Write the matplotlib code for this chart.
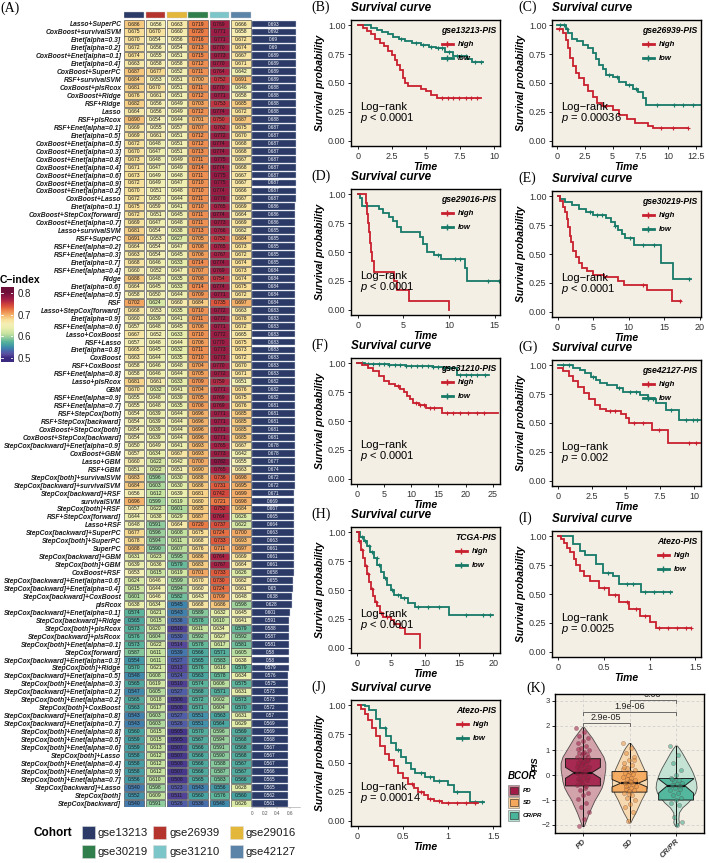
import numpy as np
import matplotlib
matplotlib.use('Agg')
import matplotlib.pyplot as plt
from matplotlib.colors import LinearSegmentedColormap, Normalize
from matplotlib.patches import Rectangle

plt.rcParams['font.family'] = ['Liberation Sans', 'DejaVu Sans']
plt.rcParams['mathtext.fontset'] = 'custom'
plt.rcParams['mathtext.rm'] = 'Liberation Sans'
plt.rcParams['mathtext.it'] = 'Liberation Sans:italic'

# ---------------- (A) C-index heatmap data ----------------
cohorts = ['gse13213', 'gse26939', 'gse29016', 'gse30219', 'gse31210', 'gse42127']
cohort_colors = ['#2b3a67', '#b5342e', '#e3b73a', '#2f7e4b', '#7cc5c8', '#5c84a8']

models = [
    'Lasso+SuperPC', 'CoxBoost+survivalSVM', 'Enet[alpha=0.3]', 'Enet[alpha=0.2]',
    'CoxBoost+Enet[alpha=0.1]', 'Enet[alpha=0.4]', 'CoxBoost+SuperPC', 'RSF+survivalSVM',
    'CoxBoost+plsRcox', 'CoxBoost+Ridge', 'RSF+Ridge', 'Lasso', 'RSF+plsRcox',
    'RSF+Enet[alpha=0.1]', 'Enet[alpha=0.5]', 'CoxBoost+Enet[alpha=0.5]',
    'CoxBoost+Enet[alpha=0.3]', 'CoxBoost+Enet[alpha=0.8]', 'CoxBoost+Enet[alpha=0.4]',
    'CoxBoost+Enet[alpha=0.6]', 'CoxBoost+Enet[alpha=0.9]', 'CoxBoost+Enet[alpha=0.2]',
    'CoxBoost+Lasso', 'Enet[alpha=0.1]', 'CoxBoost+StepCox[forward]',
    'CoxBoost+Enet[alpha=0.7]', 'Lasso+survivalSVM', 'RSF+SuperPC', 'RSF+Enet[alpha=0.2]',
    'RSF+Enet[alpha=0.3]', 'Enet[alpha=0.7]', 'RSF+Enet[alpha=0.4]', 'Ridge',
    'Enet[alpha=0.6]', 'RSF+Enet[alpha=0.5]', 'RSF', 'Lasso+StepCox[forward]',
    'Enet[alpha=0.9]', 'RSF+Enet[alpha=0.6]', 'Lasso+CoxBoost', 'RSF+Lasso',
    'Enet[alpha=0.8]', 'CoxBoost', 'RSF+CoxBoost', 'RSF+Enet[alpha=0.8]', 'Lasso+plsRcox',
    'GBM', 'RSF+Enet[alpha=0.9]', 'RSF+Enet[alpha=0.7]', 'RSF+StepCox[both]',
    'RSF+StepCox[backward]', 'CoxBoost+StepCox[both]', 'CoxBoost+StepCox[backward]',
    'StepCox[backward]+Enet[alpha=0.9]', 'CoxBoost+GBM', 'Lasso+GBM', 'RSF+GBM',
    'StepCox[both]+survivalSVM', 'StepCox[backward]+survivalSVM', 'StepCox[backward]+RSF',
    'survivalSVM', 'StepCox[both]+RSF', 'RSF+StepCox[forward]', 'Lasso+RSF',
    'StepCox[backward]+SuperPC', 'StepCox[both]+SuperPC', 'SuperPC',
    'StepCox[backward]+GBM', 'StepCox[both]+GBM', 'CoxBoost+RSF',
    'StepCox[backward]+Enet[alpha=0.6]', 'StepCox[backward]+Enet[alpha=0.4]',
    'StepCox[backward]+CoxBoost', 'plsRcox', 'StepCox[backward]+Enet[alpha=0.1]',
    'StepCox[backward]+Ridge', 'StepCox[both]+plsRcox', 'StepCox[backward]+plsRcox',
    'StepCox[both]+Enet[alpha=0.1]', 'StepCox[forward]', 'StepCox[backward]+Enet[alpha=0.3]',
    'StepCox[both]+Ridge', 'StepCox[backward]+Enet[alpha=0.5]', 'StepCox[both]+Enet[alpha=0.3]',
    'StepCox[backward]+Enet[alpha=0.2]', 'StepCox[both]+Enet[alpha=0.2]',
    'StepCox[both]+CoxBoost', 'StepCox[backward]+Enet[alpha=0.8]',
    'StepCox[backward]+Enet[alpha=0.7]', 'StepCox[both]+Enet[alpha=0.8]',
    'StepCox[both]+Enet[alpha=0.5]', 'StepCox[both]+Enet[alpha=0.6]', 'StepCox[both]+Lasso',
    'StepCox[both]+Enet[alpha=0.4]', 'StepCox[both]+Enet[alpha=0.9]',
    'StepCox[both]+Enet[alpha=0.7]', 'StepCox[backward]+Lasso', 'StepCox[both]',
    'StepCox[backward]',
]

cindex = [
    [0.686, 0.656, 0.663, 0.719, 0.769, 0.666],
    [0.675, 0.670, 0.660, 0.720, 0.771, 0.658],
    [0.670, 0.654, 0.656, 0.716, 0.771, 0.672],
    [0.672, 0.656, 0.654, 0.713, 0.770, 0.674],
    [0.674, 0.655, 0.651, 0.715, 0.773, 0.667],
    [0.663, 0.658, 0.658, 0.712, 0.770, 0.671],
    [0.687, 0.677, 0.652, 0.711, 0.764, 0.642],
    [0.684, 0.653, 0.651, 0.700, 0.752, 0.691],
    [0.681, 0.670, 0.651, 0.711, 0.770, 0.646],
    [0.676, 0.661, 0.651, 0.712, 0.771, 0.658],
    [0.682, 0.656, 0.649, 0.703, 0.753, 0.685],
    [0.664, 0.656, 0.649, 0.712, 0.774, 0.672],
    [0.690, 0.654, 0.644, 0.701, 0.750, 0.687],
    [0.669, 0.655, 0.657, 0.707, 0.762, 0.675],
    [0.669, 0.661, 0.651, 0.712, 0.772, 0.670],
    [0.672, 0.648, 0.651, 0.712, 0.774, 0.668],
    [0.670, 0.647, 0.651, 0.713, 0.774, 0.668],
    [0.673, 0.648, 0.649, 0.711, 0.775, 0.667],
    [0.671, 0.647, 0.649, 0.714, 0.774, 0.668],
    [0.673, 0.649, 0.648, 0.711, 0.775, 0.667],
    [0.672, 0.649, 0.647, 0.710, 0.775, 0.667],
    [0.670, 0.651, 0.648, 0.710, 0.774, 0.666],
    [0.672, 0.650, 0.644, 0.711, 0.776, 0.667],
    [0.675, 0.659, 0.641, 0.710, 0.765, 0.669],
    [0.672, 0.651, 0.645, 0.711, 0.774, 0.664],
    [0.669, 0.647, 0.648, 0.711, 0.773, 0.669],
    [0.681, 0.654, 0.638, 0.713, 0.766, 0.662],
    [0.691, 0.653, 0.627, 0.705, 0.752, 0.684],
    [0.664, 0.654, 0.647, 0.708, 0.765, 0.673],
    [0.663, 0.654, 0.645, 0.706, 0.767, 0.672],
    [0.668, 0.646, 0.633, 0.714, 0.774, 0.674],
    [0.660, 0.652, 0.647, 0.707, 0.769, 0.673],
    [0.688, 0.648, 0.635, 0.708, 0.754, 0.674],
    [0.664, 0.645, 0.633, 0.714, 0.774, 0.675],
    [0.658, 0.650, 0.644, 0.709, 0.771, 0.672],
    [0.702, 0.624, 0.660, 0.684, 0.735, 0.697],
    [0.668, 0.653, 0.635, 0.710, 0.772, 0.663],
    [0.660, 0.639, 0.641, 0.711, 0.772, 0.678],
    [0.657, 0.648, 0.645, 0.706, 0.771, 0.672],
    [0.667, 0.652, 0.633, 0.710, 0.772, 0.665],
    [0.657, 0.648, 0.644, 0.706, 0.770, 0.675],
    [0.665, 0.645, 0.632, 0.711, 0.773, 0.673],
    [0.663, 0.644, 0.635, 0.710, 0.773, 0.672],
    [0.658, 0.646, 0.648, 0.704, 0.770, 0.670],
    [0.658, 0.646, 0.644, 0.705, 0.772, 0.671],
    [0.681, 0.661, 0.633, 0.709, 0.759, 0.651],
    [0.670, 0.632, 0.641, 0.704, 0.771, 0.676],
    [0.655, 0.648, 0.639, 0.705, 0.769, 0.675],
    [0.655, 0.648, 0.635, 0.706, 0.769, 0.676],
    [0.654, 0.639, 0.644, 0.696, 0.771, 0.685],
    [0.654, 0.639, 0.644, 0.696, 0.771, 0.685],
    [0.654, 0.639, 0.644, 0.696, 0.771, 0.685],
    [0.654, 0.639, 0.644, 0.696, 0.771, 0.685],
    [0.650, 0.649, 0.641, 0.693, 0.765, 0.667],
    [0.657, 0.634, 0.667, 0.693, 0.773, 0.642],
    [0.660, 0.622, 0.642, 0.700, 0.782, 0.655],
    [0.651, 0.622, 0.651, 0.690, 0.765, 0.663],
    [0.683, 0.596, 0.630, 0.688, 0.736, 0.698],
    [0.684, 0.603, 0.630, 0.686, 0.731, 0.695],
    [0.656, 0.612, 0.639, 0.681, 0.742, 0.699],
    [0.696, 0.599, 0.619, 0.680, 0.721, 0.698],
    [0.657, 0.622, 0.601, 0.685, 0.752, 0.684],
    [0.644, 0.638, 0.629, 0.687, 0.764, 0.626],
    [0.648, 0.591, 0.664, 0.720, 0.737, 0.622],
    [0.677, 0.596, 0.608, 0.675, 0.724, 0.700],
    [0.678, 0.594, 0.611, 0.668, 0.733, 0.693],
    [0.688, 0.590, 0.607, 0.676, 0.711, 0.697],
    [0.631, 0.623, 0.595, 0.686, 0.764, 0.669],
    [0.639, 0.636, 0.579, 0.683, 0.767, 0.664],
    [0.653, 0.615, 0.619, 0.701, 0.733, 0.626],
    [0.624, 0.646, 0.599, 0.670, 0.730, 0.662],
    [0.615, 0.644, 0.594, 0.660, 0.724, 0.661],
    [0.601, 0.646, 0.582, 0.643, 0.709, 0.648],
    [0.638, 0.634, 0.545, 0.668, 0.686, 0.598],
    [0.574, 0.621, 0.543, 0.589, 0.632, 0.645],
    [0.565, 0.615, 0.536, 0.578, 0.610, 0.641],
    [0.573, 0.620, 0.510, 0.611, 0.634, 0.579],
    [0.576, 0.604, 0.530, 0.592, 0.627, 0.592],
    [0.573, 0.622, 0.514, 0.578, 0.617, 0.581],
    [0.587, 0.611, 0.539, 0.566, 0.571, 0.605],
    [0.554, 0.611, 0.527, 0.565, 0.583, 0.638],
    [0.570, 0.621, 0.513, 0.576, 0.616, 0.579],
    [0.548, 0.608, 0.524, 0.563, 0.578, 0.634],
    [0.565, 0.619, 0.510, 0.574, 0.606, 0.575],
    [0.547, 0.605, 0.527, 0.568, 0.571, 0.631],
    [0.565, 0.618, 0.506, 0.572, 0.602, 0.573],
    [0.563, 0.617, 0.508, 0.571, 0.604, 0.570],
    [0.543, 0.603, 0.527, 0.551, 0.563, 0.631],
    [0.543, 0.603, 0.526, 0.551, 0.564, 0.629],
    [0.560, 0.615, 0.505, 0.570, 0.596, 0.569],
    [0.559, 0.615, 0.505, 0.567, 0.594, 0.568],
    [0.559, 0.613, 0.507, 0.566, 0.591, 0.568],
    [0.558, 0.612, 0.507, 0.566, 0.590, 0.568],
    [0.558, 0.612, 0.508, 0.566, 0.588, 0.567],
    [0.558, 0.612, 0.507, 0.566, 0.587, 0.567],
    [0.556, 0.610, 0.508, 0.565, 0.583, 0.566],
    [0.540, 0.598, 0.523, 0.543, 0.556, 0.628],
    [0.552, 0.609, 0.511, 0.560, 0.576, 0.560],
    [0.540, 0.591, 0.526, 0.536, 0.548, 0.626],
]

mean_cindex = [
    0.693, 0.692, 0.69, 0.69, 0.689, 0.689, 0.689, 0.689, 0.688, 0.688,
    0.688, 0.688, 0.688, 0.687, 0.687, 0.687, 0.687, 0.687, 0.687, 0.687,
    0.687, 0.687, 0.687, 0.686, 0.686, 0.686, 0.685, 0.685, 0.685, 0.685,
    0.685, 0.684, 0.684, 0.684, 0.684, 0.684, 0.683, 0.683, 0.683, 0.683,
    0.683, 0.683, 0.683, 0.683, 0.683, 0.682, 0.682, 0.682, 0.681, 0.681,
    0.681, 0.681, 0.681, 0.678, 0.678, 0.677, 0.674, 0.672, 0.672, 0.671,
    0.669, 0.667, 0.665, 0.664, 0.663, 0.663, 0.661, 0.661, 0.661, 0.658,
    0.655, 0.65, 0.638, 0.628, 0.601, 0.591, 0.588, 0.587, 0.581, 0.58,
    0.58, 0.579, 0.576, 0.575, 0.573, 0.573, 0.572, 0.57, 0.569, 0.569,
    0.568, 0.567, 0.567, 0.567, 0.566, 0.565, 0.565, 0.562, 0.561,
]

# ---------------- Kaplan-Meier curves ----------------
b_hi_t = [0, 0.4, 0.7, 1.0, 1.3, 1.6, 1.9, 2.2, 2.5, 2.7, 2.9, 3.1, 3.3, 3.5, 3.7, 4.6, 5.0, 5.4, 5.8, 9.0]
b_hi_s = [1, 0.98, 0.95, 0.92, 0.88, 0.85, 0.82, 0.78, 0.74, 0.70, 0.66, 0.61, 0.54, 0.50, 0.47, 0.45, 0.43, 0.40, 0.37, 0.37]
b_lo_t = [0, 1.0, 1.4, 1.8, 2.2, 2.6, 3.0, 3.5, 4.0, 4.6, 5.2, 5.7, 6.4, 7.0, 8.0, 8.4, 9.2]
b_lo_s = [1, 0.98, 0.96, 0.94, 0.92, 0.90, 0.88, 0.86, 0.845, 0.83, 0.81, 0.80, 0.77, 0.73, 0.71, 0.68, 0.68]
b_hi_c = [6.2, 6.6, 7.0, 7.4, 7.9, 8.3, 8.7]
b_lo_c = [3.2, 4.3, 4.8, 5.4, 5.9, 6.2, 6.7, 7.3, 7.6, 7.9, 8.6, 9.0]

c_hi_t = [0, 0.5, 0.8, 1.0, 1.2, 1.4, 1.7, 2.0, 2.4, 2.8, 3.2, 3.6, 4.0, 5.0, 5.6, 6.3, 7.0, 8.2, 8.6, 11.8]
c_hi_s = [0.97, 0.93, 0.87, 0.80, 0.72, 0.65, 0.59, 0.54, 0.48, 0.43, 0.38, 0.33, 0.30, 0.27, 0.22, 0.19, 0.15, 0.13, 0.11, 0.11]
c_lo_t = [0, 0.8, 1.0, 1.3, 1.8, 2.3, 2.8, 3.2, 3.5, 3.8, 4.1, 4.4, 5.0, 5.6, 6.2, 6.8, 7.3, 7.7, 8.0, 13.0]
c_lo_s = [1, 0.97, 0.93, 0.88, 0.86, 0.83, 0.80, 0.76, 0.71, 0.66, 0.62, 0.57, 0.55, 0.51, 0.48, 0.45, 0.42, 0.37, 0.31, 0.31]
c_hi_c = [0.2, 4.4, 9.4, 10.4, 11.8]
c_lo_c = [0.3, 0.6, 0.9, 4.7, 5.4, 6.5, 7.1, 9.0, 10.5, 11.3, 12.2]

d_hi_t = [0, 0.9, 1.0, 1.1, 1.2, 1.3, 1.45, 1.6, 1.8, 4.0, 4.3, 5.6, 10.0]
d_hi_s = [1, 0.92, 0.83, 0.75, 0.67, 0.58, 0.50, 0.42, 0.33, 0.25, 0.17, 0.08, 0.0]
d_lo_t = [0, 0.2, 0.5, 2.3, 2.8, 3.4, 3.9, 4.3, 4.7, 6.8, 7.2, 7.6, 8.3, 9.1, 11.7, 12.0, 15.6]
d_lo_s = [1, 0.97, 0.90, 0.87, 0.84, 0.80, 0.77, 0.72, 0.67, 0.63, 0.57, 0.50, 0.47, 0.44, 0.36, 0.25, 0.25]
d_hi_c = []
d_lo_c = [0.9, 8.8, 10.6, 11.2, 14.3, 15.5]

e_hi_t = [0, 0.3, 0.7, 1.0, 1.3, 1.5, 1.7, 1.9, 2.2, 2.6, 3.0, 3.5, 4.2, 5.0, 6.5, 8.5, 9.4, 12.6, 16.1, 17.4]
e_hi_s = [1, 0.96, 0.91, 0.86, 0.80, 0.73, 0.66, 0.60, 0.53, 0.47, 0.42, 0.38, 0.35, 0.32, 0.30, 0.27, 0.23, 0.19, 0.09, 0.09]
e_lo_t = [0, 0.3, 1.0, 2.0, 3.0, 4.0, 5.0, 6.8, 7.5, 8.0, 8.5, 9.0, 9.5, 10.7, 14.5, 16.2, 18.7]
e_lo_s = [1, 0.98, 0.95, 0.92, 0.89, 0.86, 0.84, 0.81, 0.78, 0.74, 0.71, 0.67, 0.64, 0.58, 0.42, 0.28, 0.28]
e_hi_c = [12.0, 17.2]
e_lo_c = [4.5, 5.5, 6.2, 8.0, 10.2, 12.0, 13.5, 18.5]

f_hi_t = [0, 1.0, 2.0, 3.0, 4.0, 5.0, 6.0, 7.0, 8.0, 8.7, 9.2, 9.7, 10.3, 11.5, 12.8, 15.6, 26.0]
f_hi_s = [1, 0.985, 0.96, 0.93, 0.89, 0.85, 0.82, 0.80, 0.78, 0.75, 0.72, 0.69, 0.66, 0.64, 0.61, 0.57, 0.57]
f_lo_t = [0, 1.5, 4, 6, 9, 12, 14, 16, 18.4, 24.3]
f_lo_s = [1, 0.995, 0.99, 0.985, 0.98, 0.975, 0.965, 0.955, 0.90, 0.90]
f_hi_c = [7.5, 10.8, 11.6, 12.3, 13.5, 14.2, 16.5, 17.6, 19.0, 20.5, 22.0, 23.3]
f_lo_c = [1, 2, 3, 4, 5, 6, 7, 8, 9, 10, 11, 12, 13, 14, 15, 16, 17, 19, 20, 21, 22, 23.5]

g_hi_t = [0, 0.4, 0.8, 1.1, 1.5, 1.9, 2.3, 2.7, 3.1, 3.5, 4.6, 5.0, 5.2, 6.9, 8.05, 10.4]
g_hi_s = [0.98, 0.95, 0.91, 0.86, 0.81, 0.76, 0.71, 0.66, 0.62, 0.60, 0.58, 0.54, 0.50, 0.44, 0.33, 0.33]
g_lo_t = [0, 1.1, 1.6, 2.0, 2.4, 2.8, 3.1, 3.6, 4.3, 4.8, 6.0, 6.6, 7.2, 7.9, 8.9, 10.4]
g_lo_s = [1, 0.98, 0.96, 0.93, 0.90, 0.87, 0.85, 0.83, 0.80, 0.77, 0.74, 0.71, 0.67, 0.61, 0.53, 0.53]
g_hi_c = [3.8, 4.2, 5.6, 6.2, 7.4, 9.6, 10.1]
g_lo_c = [0.4, 0.8, 2.6, 4.5, 5.3, 5.7, 7.0, 8.3, 9.4, 9.9, 10.2]

h_hi_t = [0, 0.3, 0.6, 0.9, 1.2, 1.5, 1.8, 2.1, 2.4, 2.7, 3.0, 3.4, 3.9, 5.0, 5.5, 6.4, 7.1, 9.3]
h_hi_s = [1, 0.92, 0.85, 0.78, 0.71, 0.64, 0.57, 0.51, 0.45, 0.40, 0.36, 0.30, 0.27, 0.24, 0.21, 0.17, 0.12, 0.0]
h_lo_t = [0, 0.5, 1.0, 1.5, 2.0, 2.5, 3.0, 3.5, 4.0, 4.5, 5.0, 5.5, 6.5, 7.5, 8.5, 13.5, 20.0]
h_lo_s = [1, 0.96, 0.92, 0.88, 0.83, 0.78, 0.72, 0.66, 0.60, 0.54, 0.50, 0.46, 0.43, 0.39, 0.35, 0.28, 0.28]
h_hi_c = [0.4, 0.8, 1.3, 1.7, 2.2, 2.8, 3.6, 4.4]
h_lo_c = [0.7, 1.2, 1.8, 2.3, 2.9, 3.3, 4.2, 5.2, 6.0, 7.0, 9.0, 10.5, 12.0, 16.0, 18.5, 19.5]

i_hi_t = [0, 0.03, 0.07, 0.1, 0.13, 0.17, 0.2, 0.24, 0.28, 0.35, 0.45, 0.56, 0.67, 0.78, 0.89, 1.0, 1.07, 1.45]
i_hi_s = [1, 0.98, 0.94, 0.90, 0.86, 0.80, 0.75, 0.70, 0.66, 0.61, 0.55, 0.49, 0.43, 0.37, 0.31, 0.26, 0.21, 0.21]
i_lo_t = [0, 0.16, 0.24, 0.3, 0.42, 0.49, 0.6, 0.67, 0.91, 1.24]
i_lo_s = [1, 0.93, 0.87, 0.84, 0.76, 0.68, 0.66, 0.59, 0.52, 0.52]
i_hi_c = [0.5, 0.62, 0.75, 0.85, 0.95, 1.1, 1.2, 1.3, 1.4, 1.45]
i_lo_c = [0.55, 0.75, 0.82, 0.95, 1.05, 1.15, 1.22]

j_hi_t = [0, 0.04, 0.08, 0.12, 0.16, 0.2, 0.25, 0.3, 0.35, 0.4, 0.45, 0.5, 0.56, 0.62, 0.67, 0.73, 0.78, 0.85, 0.93, 1.33]
j_hi_s = [1, 0.97, 0.92, 0.87, 0.80, 0.73, 0.65, 0.58, 0.53, 0.47, 0.41, 0.37, 0.32, 0.28, 0.25, 0.22, 0.19, 0.17, 0.15, 0.15]
j_lo_t = [0, 0.08, 0.13, 0.2, 0.25, 0.31, 0.37, 0.42, 0.48, 0.53, 0.59, 0.64, 0.75, 0.85, 1.0, 1.07, 1.24, 1.4]
j_lo_s = [1, 0.99, 0.96, 0.88, 0.80, 0.73, 0.67, 0.61, 0.55, 0.50, 0.45, 0.41, 0.38, 0.34, 0.31, 0.25, 0.16, 0.16]
j_hi_c = [0.6, 0.7, 0.8, 0.9, 1.0, 1.1, 1.2, 1.3]
j_lo_c = [0.3, 0.45, 0.7, 0.8, 0.9, 1.1, 1.3, 1.38]

km_titles = ['gse13213-PIS', 'gse26939-PIS', 'gse29016-PIS', 'gse30219-PIS', 'gse31210-PIS',
             'gse42127-PIS', 'TCGA-PIS', 'Atezo-PIS', 'Atezo-PIS']
km_pvals = ['< 0.0001', '= 0.00036', '< 0.0001', '< 0.0001', '< 0.0001',
            '= 0.002', '< 0.0001', '= 0.0025', '= 0.00014']

# ---------------- (K) PIS by BCOR ----------------
groups = ['PD', 'SD', 'CR/PR']
pd_vy = [-2.05, -1.75, -1.5, -1.25, -1.0, -0.75, -0.5, -0.25, 0.0, 0.25, 0.5, 0.75, 1.0, 1.25, 1.5, 1.75, 1.95]
pd_vw = [0.02, 0.08, 0.13, 0.19, 0.25, 0.33, 0.40, 0.44, 0.46, 0.48, 0.48, 0.44, 0.36, 0.28, 0.20, 0.10, 0.02]
sd_vy = [-1.9, -1.7, -1.5, -1.25, -1.0, -0.75, -0.5, -0.25, 0.0, 0.25, 0.5, 0.75, 1.0, 1.15, 1.3]
sd_vw = [0.02, 0.07, 0.13, 0.19, 0.25, 0.32, 0.37, 0.38, 0.36, 0.31, 0.25, 0.19, 0.13, 0.08, 0.02]
cr_vy = [-2.05, -1.9, -1.75, -1.5, -1.3, -1.1, -0.9, -0.7, -0.5, -0.3, -0.1, 0.1, 0.3, 0.5, 0.7, 0.9, 1.05, 1.2]
cr_vw = [0.02, 0.06, 0.05, 0.06, 0.13, 0.25, 0.34, 0.41, 0.44, 0.43, 0.40, 0.36, 0.31, 0.25, 0.19, 0.13, 0.08, 0.02]
box_q1 = [-0.43, -0.68, -1.0]
box_med = [0.1, -0.32, -0.42]
box_q3 = [0.67, 0.15, -0.13]
box_lo = [-2.05, -1.85, -2.0]
box_hi = [1.9, 1.3, 1.2]
box_cilo = [-0.12, -0.47, -0.72]
box_cihi = [0.32, -0.17, -0.15]
pd_pts = [1.9, 1.75, 1.6, 1.5, 1.4, 1.3, 1.2, 1.1, 1.0, 0.95, 0.9, 0.85, 0.8, 0.75, 0.7, 0.65,
          0.6, 0.55, 0.5, 0.45, 0.4, 0.35, 0.3, 0.25, 0.2, 0.15, 0.1, 0.05, 0.0, -0.05, -0.1,
          -0.15, -0.2, -0.3, -0.4, -0.5, -0.6, -0.7, -0.8, -0.95, -1.1, -1.3, -1.5, -1.75,
          -2.05, 0.62, 0.48, 0.33, 0.18, -0.25, 0.72, 0.88, 1.05, -0.45]
sd_pts = [1.3, 1.1, 0.9, 0.75, 0.6, 0.5, 0.4, 0.3, 0.2, 0.15, 0.1, 0.05, 0.0, -0.05, -0.1,
          -0.15, -0.2, -0.25, -0.3, -0.35, -0.4, -0.45, -0.5, -0.55, -0.6, -0.65, -0.7, -0.8,
          -0.9, -1.0, -1.15, -1.3, -1.5, -1.85, 0.25, -0.28, -0.42, 0.62, -0.75, 0.35]
cr_pts = [1.2, 0.8, 0.5, 0.2, 0.0, -0.1, -0.2, -0.25, -0.3, -0.35, -0.4, -0.45, -0.5, -0.6,
          -0.7, -0.8, -0.9, -1.0, -1.1, -1.2, -1.7, -1.9, -2.0, -0.15, -0.55]
sig_pairs = [(1, 2, '2.9e-05', 2.09), (1, 3, '1.9e-06', 2.55), (2, 3, '0.03', 3.03)]

# ---------------- styles / layout ----------------
W, H = 709, 863
bg = '#f4efe5'
red = '#c8202f'
green = '#177a68'
grp_fill = ['#c98a98', '#f8d2a0', '#b4e0d0']
grp_box = ['#a11d48', '#f5a85b', '#48b49a']
grp_pt = ['#9b1b45', '#e8953f', '#3ba689']

ci_stops = [0.50, 0.515, 0.53, 0.545, 0.56, 0.575, 0.59, 0.61, 0.635, 0.655, 0.675,
            0.69, 0.705, 0.72, 0.735, 0.75, 0.765, 0.78, 0.80]
ci_cols = ['#3b2b80', '#5a4b9f', '#4d63aa', '#3f85ad', '#47a2a2', '#5cb59b', '#8dca9c',
           '#c5e3a0', '#e9eeac', '#f4efb6', '#f8df98', '#f5c077', '#f1a05d', '#ea7c47',
           '#dd563d', '#c63a40', '#a92246', '#8d1843', '#6e0f3a']
ci_pos = [round((s - 0.5) / 0.3, 6) for s in ci_stops]
cmap = LinearSegmentedColormap.from_list('cidx', list(zip(ci_pos, ci_cols)))
norm = Normalize(0.5, 0.8)

fig = plt.figure(figsize=(7.09, 8.63), dpi=100)


def axes_px(x0, y0, x1, y1):
    return fig.add_axes([x0 / W, 1 - y1 / H, (x1 - x0) / W, (y1 - y0) / H])


# ---------------- heatmap ----------------
vals = np.array(cindex)
nrow = len(models)
row0, pitch = 24.0, 7.95
y_top, y_bot = -1.75, nrow - 0.5
ax = axes_px(123.5, row0 + pitch * y_top, 251.5, row0 + pitch * y_bot)
ax.set_xlim(-0.5, 5.5)
ax.set_ylim(y_bot, y_top)
rows = np.arange(nrow)
for j in range(len(cohorts)):
    ax.barh(rows, 0.93, left=j - 0.465, height=0.9, color=cmap(norm(vals[:, j])),
            edgecolor='#4a4a4a', linewidth=0.45)
    ax.barh([-1.13], 0.93, left=j - 0.465, height=0.75, color=cohort_colors[j],
            edgecolor='#cccccc', linewidth=0.3)
    for i in rows:
        ax.text(j, i, '%.3f' % vals[i, j], ha='center', va='center', fontsize=3.6,
                color='#1a1a1a')
ax.set_yticks(rows)
ax.set_yticklabels(models, fontsize=4.85, fontweight='bold', style='italic', color='#1a1a1a')
ax.tick_params(axis='y', length=0, pad=1.5)
ax.set_xticks([])
for s in ax.spines.values():
    s.set_visible(False)

# mean bars
axm = axes_px(252, row0 + pitch * y_top, 300, row0 + pitch * y_bot)
axm.set_ylim(y_bot, y_top)
axm.set_xlim(0, 0.6 * 48 / 38)
axm.barh(rows, mean_cindex, height=0.86, color='#2b3a67', edgecolor='#c9d0de', linewidth=0.3)
for i, v in zip(rows, mean_cindex):
    axm.text(v / 2, i, '%g' % v, ha='center', va='center', fontsize=3.3, color='white')
axm.set_yticks([])
axm.set_xticks([0, 0.2, 0.4, 0.6])
axm.set_xticklabels(['0', '0.2', '0.4', '0.6'], fontsize=3.4, color='#555555')
axm.tick_params(axis='x', length=1.5, width=0.3, pad=1, color='#888888')
for k in ['top', 'right', 'left']:
    axm.spines[k].set_visible(False)
axm.spines['bottom'].set_color('#999999')
axm.spines['bottom'].set_linewidth(0.4)
axm.patch.set_alpha(0)

# colorbar
cb_lo, cb_hi = 0.482, 0.8276
cax = axes_px(0.5, 287, 13, 362)
grad = np.linspace(cb_lo, cb_hi, 200).reshape(-1, 1)
cax.imshow(grad, aspect='auto', cmap=cmap, norm=norm, origin='lower',
           extent=[0, 1, cb_lo, cb_hi])
cax.set_xlim(0, 1)
cax.set_ylim(cb_lo, cb_hi)
cax.set_xticks([])
cax.yaxis.tick_right()
cax.set_yticks([0.5, 0.6, 0.7, 0.8])
cax.set_yticklabels(['0.5', '0.6', '0.7', '0.8'], fontsize=7, color='#222222')
cax.tick_params(axis='y', length=0, pad=3)
for t in [0.5, 0.6, 0.7, 0.8]:
    cax.plot([0, 0.2], [t, t], color='white', lw=0.6)
    cax.plot([0.8, 1], [t, t], color='white', lw=0.6)
for s in cax.spines.values():
    s.set_visible(False)
fig.text(0.0, 1 - 280 / H, 'C\u2212index', fontsize=7.5, fontweight='bold', va='center')

# cohort legend
fig.text(33 / W, 1 - 832.5 / H, 'Cohort', fontsize=8.5, fontweight='bold', va='center')
leg_x = [82, 153, 230]
for k, (name, col) in enumerate(zip(cohorts, cohort_colors)):
    x = leg_x[k % 3]
    yc = 832.5 if k < 3 else 851.5
    fig.patches.append(Rectangle((x / W, 1 - (yc + 6.5) / H), 13 / W, 13 / H,
                                 transform=fig.transFigure, facecolor=col,
                                 edgecolor='#dddddd', linewidth=0.4))
    fig.text((x + 16) / W, 1 - yc / H, name, fontsize=8.2, va='center', color='#1a1a1a')

# ---------------- KM panels ----------------
km_data = [
    (b_hi_t, b_hi_s, b_hi_c, b_lo_t, b_lo_s, b_lo_c),
    (c_hi_t, c_hi_s, c_hi_c, c_lo_t, c_lo_s, c_lo_c),
    (d_hi_t, d_hi_s, d_hi_c, d_lo_t, d_lo_s, d_lo_c),
    (e_hi_t, e_hi_s, e_hi_c, e_lo_t, e_lo_s, e_lo_c),
    (f_hi_t, f_hi_s, f_hi_c, f_lo_t, f_lo_s, f_lo_c),
    (g_hi_t, g_hi_s, g_hi_c, g_lo_t, g_lo_s, g_lo_c),
    (h_hi_t, h_hi_s, h_hi_c, h_lo_t, h_lo_s, h_lo_c),
    (i_hi_t, i_hi_s, i_hi_c, i_lo_t, i_lo_s, i_lo_c),
    (j_hi_t, j_hi_s, j_hi_c, j_lo_t, j_lo_s, j_lo_c),
]
km_xticks = [[0, 2.5, 5, 7.5, 10], [0, 2.5, 5, 7.5, 10, 12.5], [0, 5, 10, 15],
             [0, 5, 10, 15, 20], [0, 5, 10, 15, 20, 25], [0, 2.5, 5, 7.5, 10],
             [0, 5, 10, 15, 20], [0, 0.5, 1, 1.5], [0, 0.5, 1, 1.5]]
km_xlim = [(-0.49, 10.42), (-0.46, 12.96), (-0.73, 15.57), (-0.78, 20.15), (-1.05, 26.3),
           (-0.44, 10.49), (-0.84, 21.0), (-0.065, 1.56), (-0.073, 1.575)]
tags = ['(B)', '(C)', '(D)', '(E)', '(F)', '(G)', '(H)', '(I)', '(J)']
row_tops = [20, 20, 189, 191, 358, 360, 527, 531, 700]
col_x = [(351, 500), (552, 701)]
renderer = fig.canvas.get_renderer()


def step_at(t, s, x):
    return s[np.searchsorted(t, x, side='right') - 1]


for p in range(9):
    x0, x1 = col_x[p % 2]
    top = row_tops[p]
    axk = axes_px(x0, top, x1, top + 126)
    axk.set_facecolor(bg)
    hi_t, hi_s, hi_c, lo_t, lo_s, lo_c = km_data[p]
    for tt, ss, cc, col in [(lo_t, lo_s, lo_c, green), (hi_t, hi_s, hi_c, red)]:
        tt = np.array(tt)
        ss = np.array(ss)
        axk.step(tt, ss, where='post', color=col, lw=1.3, solid_joinstyle='miter')
        if len(cc):
            cc = np.array(cc)
            axk.plot(cc, step_at(tt, ss, cc), ls='none', marker='+', ms=3.5, mew=0.8, color=col)
    axk.set_xlim(*km_xlim[p])
    axk.set_ylim(-0.045, 1.045)
    axk.set_xticks(km_xticks[p])
    axk.set_xticklabels(['%g' % v for v in km_xticks[p]])
    axk.set_yticks([0, 0.25, 0.5, 0.75, 1.0])
    axk.set_yticklabels(['0.00', '0.25', '0.50', '0.75', '1.00'])
    axk.tick_params(labelsize=6.5, length=2.5, width=0.6, pad=1.5, labelcolor='#333333')
    for s in axk.spines.values():
        s.set_linewidth(1.0)
    axk.set_xlabel('Time', fontsize=7.5, fontweight='bold', style='italic', labelpad=1)
    axk.set_ylabel('Survival probability', fontsize=7.5, fontweight='bold', style='italic',
                   labelpad=2)
    axk.text(0.0, 1.0 + 12 / 126, 'Survival curve', transform=axk.transAxes, fontsize=8.5,
             fontweight='bold', style='italic', va='center', ha='left')
    tag_x = 311 if p % 2 == 0 else 518
    fig.text(tag_x / W, 1 - (top - 13) / H, tags[p], family='Liberation Serif', fontsize=10,
             va='center')
    axk.text(0.06, 0.31, 'Log\u2212rank', transform=axk.transAxes, fontsize=8, va='center')
    axk.text(0.06, 0.22, '$p$ ' + km_pvals[p], transform=axk.transAxes, fontsize=8,
             va='center')
    # legend
    lt = axk.text(0.975, 0.92, km_titles[p], transform=axk.transAxes, ha='right', va='center',
                  fontsize=6.2, fontweight='bold', style='italic')
    bb = lt.get_window_extent(renderer=renderer).transformed(axk.transAxes.inverted())
    lx = bb.x0 + 0.005
    for yy, name, col in [(0.808, 'high', red), (0.696, 'low', green)]:
        axk.plot([lx, lx + 0.075], [yy, yy], color=col, lw=2.0, transform=axk.transAxes)
        axk.plot([lx + 0.0375], [yy], marker='+', ms=4, mew=1.0, color=col,
                 transform=axk.transAxes)
        axk.text(lx + 0.11, yy, name, transform=axk.transAxes, fontsize=5.6,
                 fontweight='bold', style='italic', va='center')

# ---------------- (K) violin ----------------
axv = axes_px(555, 694, 704, 833)
axv.set_facecolor(bg)
axv.set_xlim(0.4, 3.6)
axv.set_ylim(-2.33, 3.28)
for yv in [-2, -1, 0, 1, 2, 3]:
    axv.axhline(yv, color='#c9c9c9', lw=0.5, ls=(0, (4, 3)), zorder=0)
for xv in [1, 2, 3]:
    axv.axvline(xv, color='#c9c9c9', lw=0.5, ls=(0, (4, 3)), zorder=0)
violins = [(pd_vy, pd_vw), (sd_vy, sd_vw), (cr_vy, cr_vw)]
for k, (vy, vw) in enumerate(violins):
    vy = np.array(vy)
    vw = np.array(vw)
    axv.fill_betweenx(vy, k + 1 - vw, k + 1 + vw, facecolor=grp_fill[k], alpha=0.75,
                      edgecolor='#222222', linewidth=0.6, zorder=1)
stats = []
for k in range(3):
    stats.append(dict(med=box_med[k], q1=box_q1[k], q3=box_q3[k], whislo=box_lo[k],
                      whishi=box_hi[k], cilo=box_cilo[k], cihi=box_cihi[k], fliers=[]))
bp = axv.bxp(stats, positions=[1, 2, 3], widths=0.75, shownotches=True, patch_artist=True,
             showcaps=False, showfliers=False, manage_ticks=False,
             boxprops=dict(linewidth=0.7, edgecolor='#111111'),
             whiskerprops=dict(linewidth=0.7, color='#111111'),
             medianprops=dict(linewidth=1.6, color='#111111'), zorder=2)
for k, patch in enumerate(bp['boxes']):
    patch.set_facecolor(grp_box[k])
    patch.set_alpha(0.9)
for k, pts in enumerate([pd_pts, sd_pts, cr_pts]):
    n = len(pts)
    jit = ((np.arange(n) * 0.618034) % 1 - 0.5) * 0.28
    axv.scatter(k + 1 + jit, pts, s=9, facecolor=grp_pt[k], edgecolor='#5a3030',
                linewidth=0.3, alpha=0.55, zorder=3)
for xa, xb, lab, yb in sig_pairs:
    axv.plot([xa, xa, xb, xb], [yb - 0.1, yb, yb, yb - 0.1], color='#555555', lw=0.6, zorder=4)
    axv.text((xa + xb) / 2, yb + 0.04, lab, ha='center', va='bottom', fontsize=6.5,
             color='#222222', clip_on=True, zorder=4)
axv.set_xticks([1, 2, 3])
axv.set_xticklabels(groups, rotation=45, ha='right', rotation_mode='anchor',
                    fontsize=6, fontweight='bold', style='italic')
axv.set_yticks([-2, -1, 0, 1, 2, 3])
axv.set_yticklabels(['\u22122', '\u22121', '0', '1', '2', '3'])
axv.tick_params(labelsize=5.5, length=2, width=0.6, pad=1.5, labelcolor='#333333')
for s in axv.spines.values():
    s.set_linewidth(1.0)
axv.set_ylabel('PIS', fontsize=6.5, fontweight='bold', style='italic', labelpad=1)
fig.text(526 / W, 1 - 688 / H, '(K)', family='Liberation Serif', fontsize=10, va='center')

# BCOR legend
fig.text(508 / W, 1 - 776 / H, 'BCOR', fontsize=7, fontweight='bold', style='italic',
         va='center')
for k, lab in enumerate(groups):
    yc = 790 + k * 12.5
    fig.patches.append(Rectangle((508 / W, 1 - (yc + 5.5) / H), 11 / W, 11 / H,
                                 transform=fig.transFigure, facecolor=grp_fill[k],
                                 edgecolor='#777777', linewidth=0.4))
    fig.patches.append(Rectangle((509.5 / W, 1 - (yc + 3.5) / H), 8 / W, 7 / H,
                                 transform=fig.transFigure, facecolor=grp_box[k],
                                 edgecolor='#222222', linewidth=0.4))
    fig.text(523 / W, 1 - yc / H, lab, fontsize=4.5, fontweight='bold', style='italic',
             va='center')

fig.text(0.0, 1 - 8 / H, '(A)', family='Liberation Serif', fontsize=10, va='center')

fig.savefig('out.png', dpi=100)
